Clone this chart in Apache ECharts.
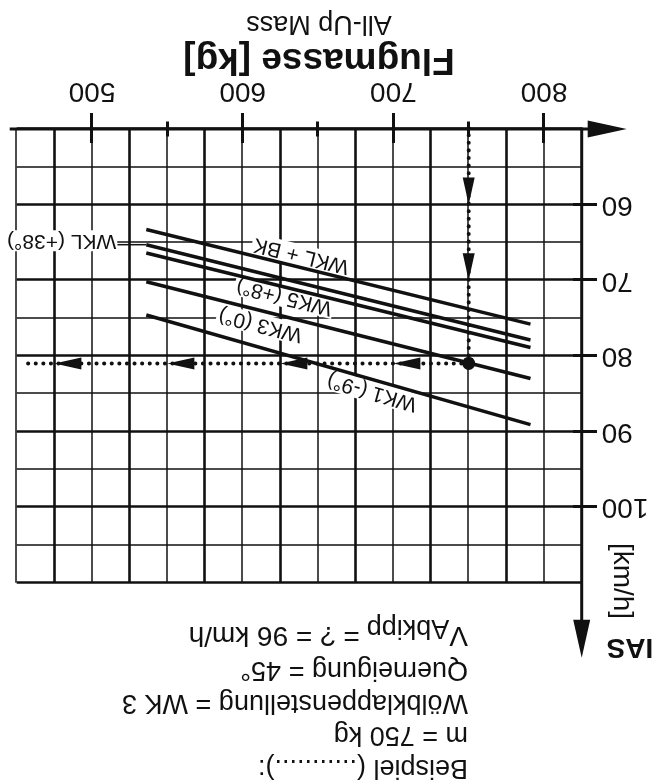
<!DOCTYPE html>
<html><head><meta charset="utf-8">
<script src="https://cdn.jsdelivr.net/npm/echarts@6/dist/echarts.min.js"></script>
<style>
html,body{margin:0;padding:0;background:#fff;}
#c{width:662px;height:780px;transform:rotate(180deg);transform-origin:50% 50%;}
</style></head><body><div id="c"></div>
<script>
// ---- data ----
const massTickLabels = [500, 600, 700, 800];
const massMajorTicks = [500, 600, 700, 800];
const massMinorTicks = [550, 650, 750];
const massThinLines = [450, 500, 550, 600, 650, 700, 750, 800];
const massThickLines = [475, 525, 575, 625, 675, 725, 775];
const iasTickLabels = [60, 70, 80, 90, 100];
const iasThickLines = [50, 60, 70, 80, 90, 100, 110];
const iasThinLines = [55, 65, 75, 85, 95, 105];

const curveNames = ['WKL + BK', 'WKL (+38°)', 'WK5 (+8°)', 'WK3 (0°)', 'WK1 (-9°)'];
const curveMass = [536, 791];
const curveWKLBK = [63.3, 75.8];
const curveWKL38 = [65.3, 77.9];
const curveWK5 = [66.4, 78.9];
const curveWK3 = [70.2, 83.0];
const curveWK1 = [74.6, 89.1];

const exampleMass = 750;
const exampleIAS = 81;
const exampleStartIAS = 48.8;
const exampleEndMass = 454;
const exampleUpArrowIAS = [60, 70];
const exampleRightArrowMass = [700, 625, 550, 475];

const exampleLines = ['Beispiel (...........):', 'm = 750 kg', 'Wölbklappenstellung = WK 3', 'Querneigung = 45°'];

// ---- chart ----
const F = '"Liberation Sans", Arial, Helvetica, sans-serif';
const K = '#111';
const chart = echarts.init(document.getElementById('c'));

function xAx(extra) {
  return Object.assign({
    type: 'value', min: 450, max: 825, inverse: true, position: 'bottom',
    axisLine: { show: false }, axisTick: { show: false }, axisLabel: { show: false },
    splitLine: { show: false }
  }, extra);
}
function yAx(extra) {
  return Object.assign({
    type: 'value', min: 50, max: 110, position: 'left',
    axisLine: { show: false }, axisTick: { show: false }, axisLabel: { show: false },
    splitLine: { show: false }
  }, extra);
}

const curves = [curveWKLBK, curveWKL38, curveWK5, curveWK3, curveWK1];

const series = curves.map((c, i) => ({
  type: 'line', name: curveNames[i], silent: true, symbol: 'none', z: 3,
  data: curveMass.map((m, j) => [m, c[j]]),
  lineStyle: { color: K, width: 3.5 }
}));
series.push({
  type: 'line', symbol: 'none', silent: true, z: 4,
  data: [[exampleMass, exampleStartIAS], [exampleMass, exampleIAS], [exampleEndMass, exampleIAS]],
  lineStyle: { color: K, width: 4, type: [0.1, 7.5], cap: 'round' }
});
series.push({
  type: 'scatter', silent: true, z: 5, symbol: 'circle', symbolSize: 13,
  itemStyle: { color: K, opacity: 1 }, data: [[exampleMass, exampleIAS]]
});
series.push({
  type: 'scatter', silent: true, z: 5, symbol: 'triangle', symbolSize: [12, 27], symbolOffset: [0, 13.5],
  itemStyle: { color: K, opacity: 1 }, data: exampleUpArrowIAS.map(v => [exampleMass, v])
});
series.push({
  type: 'scatter', silent: true, z: 5, symbol: 'triangle', symbolSize: [12, 27], symbolRotate: -90, symbolOffset: [-13.5, 0],
  itemStyle: { color: K, opacity: 1 }, data: exampleRightArrowMass.map(m => [m, exampleIAS])
});

chart.setOption({
  animation: false,
  backgroundColor: '#fff',
  grid: { left: 80.3, top: 197.3, width: 565, height: 453.7, containLabel: false, outerBoundsMode: 'none' },
  xAxis: [
    xAx({ axisTick: { show: false, customValues: massThinLines },
          axisLabel: { show: true, customValues: massTickLabels, margin: 24, fontSize: 28, fontFamily: F, color: K },
          splitLine: { show: true, lineStyle: { color: K, width: 1.5 } } }),
    xAx({ axisTick: { show: false, customValues: massThickLines },
          splitLine: { show: true, lineStyle: { color: K, width: 2.6 } } }),
    xAx({ offset: -14, axisTick: { show: true, customValues: massMajorTicks, length: 30, lineStyle: { color: K, width: 3 } } }),
    xAx({ offset: -7.5, axisTick: { show: true, customValues: massMinorTicks, length: 15, lineStyle: { color: K, width: 3 } } })
  ],
  yAxis: [
    yAx({ axisTick: { show: false, customValues: iasThickLines },
          axisLabel: { show: true, customValues: iasTickLabels, margin: 20, fontSize: 28, fontFamily: F, color: K },
          splitLine: { show: true, lineStyle: { color: K, width: 2.6 } } }),
    yAx({ axisTick: { show: false, customValues: iasThinLines },
          splitLine: { show: true, lineStyle: { color: K, width: 1.5 } } }),
    yAx({ offset: -8.7, axisTick: { show: true, customValues: iasTickLabels, length: 24, lineStyle: { color: K, width: 3 } } })
  ],
  series: series
});

// ---- annotations ----
function px(m, v) { return chart.convertToPixel({ gridIndex: 0 }, [m, v]); }
const g = [];
const o = px(825, 50), pR = px(450, 50), pT = px(825, 110);
// mass axis + arrow
g.push({ type: 'line', z: 10, shape: { x1: pR[0] + 7, y1: o[1], x2: o[0] - 7, y2: o[1] }, style: { stroke: K, lineWidth: 3 } });
g.push({ type: 'polygon', z: 10, shape: { points: [[o[0] - 45, o[1]], [o[0] - 6, o[1] - 8.5], [o[0] - 6, o[1] + 8.5]] }, style: { fill: K } });
// IAS axis + arrow
g.push({ type: 'line', z: 10, shape: { x1: o[0], y1: o[1] + 1.5, x2: o[0], y2: pT[1] - 38 }, style: { stroke: K, lineWidth: 3 } });
g.push({ type: 'polygon', z: 10, shape: { points: [[o[0], pT[1] - 75], [o[0] - 8.5, pT[1] - 37], [o[0] + 8.5, pT[1] - 37]] }, style: { fill: K } });

// labels along the curves
const curveLabelCfg = [
  { i: 0, m: 637, d: -12 },
  { i: 2, m: 629, d: 9.5 },
  { i: 3, m: 614, d: 13.8 },
  { i: 4, m: 688, d: 12 }
];
curveLabelCfg.forEach(cfg => {
  const c = curves[cfg.i];
  const p0 = px(curveMass[0], c[0]), p1 = px(curveMass[1], c[1]);
  const dx = p0[0] - p1[0], dy = p0[1] - p1[1];
  const len = Math.hypot(dx, dy);
  const ang = Math.atan2(dy, dx);
  const t = (cfg.m - curveMass[0]) / (curveMass[1] - curveMass[0]);
  const a = px(cfg.m, c[0] + t * (c[1] - c[0]));
  const nx = dy / len, ny = -dx / len;
  g.push({ type: 'text', z: 1, x: a[0] + cfg.d * nx, y: a[1] + cfg.d * ny, rotation: -ang,
    style: { text: curveNames[cfg.i], fontSize: 21, fontFamily: F, fill: K, align: 'center', verticalAlign: 'middle',
      backgroundColor: '#fff', padding: [0, 2] } });
});
// WKL (+38°) with leader
const l0 = px(curveMass[0], curveWKL38[0]);
g.push({ type: 'line', z: 1, shape: { x1: l0[0], y1: l0[1], x2: l0[0] + 29, y2: l0[1] }, style: { stroke: K, lineWidth: 1.5 } });
g.push({ type: 'text', z: 1, x: l0[0] + 29, y: l0[1] + 4,
  style: { text: curveNames[1], fontSize: 21, fontFamily: F, fill: K, align: 'left', verticalAlign: 'middle', backgroundColor: '#fff', padding: [0, 1] } });

// axis titles
g.push({ type: 'text', z: 10, x: 343, y: 721, style: { text: 'Flugmasse [kg]', fontSize: 37, fontWeight: 'bold', fontFamily: F, fill: K, align: 'center', verticalAlign: 'middle' } });
g.push({ type: 'text', z: 10, x: 343, y: 757, style: { text: 'All-Up Mass', fontSize: 27, fontFamily: F, fill: K, align: 'center', verticalAlign: 'middle' } });
g.push({ type: 'text', z: 10, x: 8.7, y: 133.6, style: { text: 'IAS', fontSize: 28, fontWeight: 'bold', fontFamily: F, fill: K, align: 'left', verticalAlign: 'middle' } });
g.push({ type: 'text', z: 10, x: 40, y: 199, rotation: Math.PI / 2, style: { text: '[km/h]', fontSize: 28, fontFamily: F, fill: K, align: 'center', verticalAlign: 'middle' } });

// example text block
const tx = 194;
const lineY = [12.6, 45.6, 77.6, 110.6];
exampleLines.forEach((s, i) => {
  g.push({ type: 'text', z: 10, x: tx, y: lineY[i], style: { text: s, fontSize: 27, fontFamily: F, fill: K, align: 'left', verticalAlign: 'middle' } });
});
const ctx = document.createElement('canvas').getContext('2d');
ctx.font = '28px ' + F;
const wV = ctx.measureText('V').width;
ctx.font = '27px ' + F;
const wSub = ctx.measureText('Abkipp').width;
g.push({ type: 'text', z: 10, x: tx, y: 145.6, style: { text: 'V', fontSize: 28, fontFamily: F, fill: K, align: 'left', verticalAlign: 'middle' } });
g.push({ type: 'text', z: 10, x: tx + wV, y: 153, style: { text: 'Abkipp', fontSize: 27, fontFamily: F, fill: K, align: 'left', verticalAlign: 'middle' } });
g.push({ type: 'text', z: 10, x: tx + wV + wSub + 7, y: 145.6, style: { text: '= ? = 96 km/h', fontSize: 28, fontFamily: F, fill: K, align: 'left', verticalAlign: 'middle' } });

chart.setOption({ graphic: g });
</script></body></html>
